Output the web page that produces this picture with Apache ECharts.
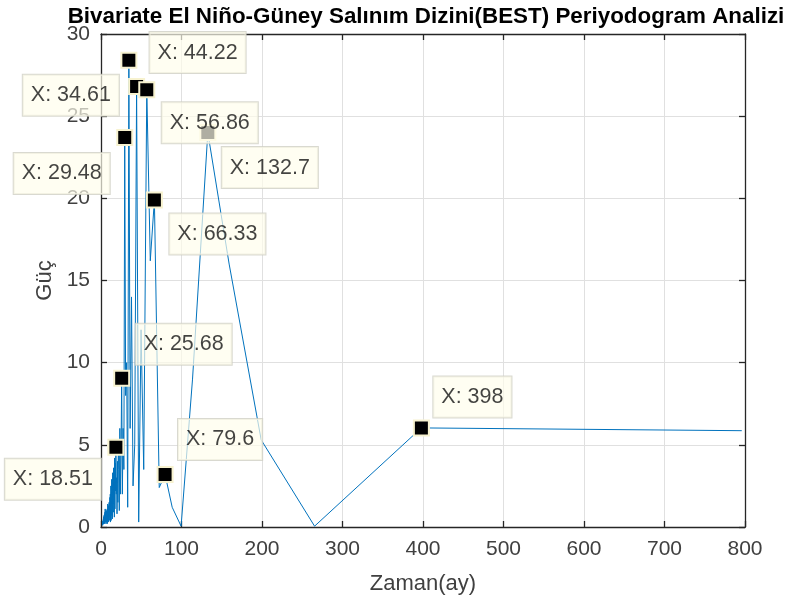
<!DOCTYPE html>
<html><head><meta charset="utf-8">
<script src="https://cdn.jsdelivr.net/npm/echarts@6/dist/echarts.min.js"></script>
<style>html,body{margin:0;padding:0;background:#fff}#c{width:786px;height:603px}</style>
</head><body><div id="c"></div>
<script>
// Periodogram: period (months) vs power — main (resolvable) points
const periodsMain = [796, 398, 265.3, 199, 159.2, 132.7, 113.7, 99.5, 88.44, 79.6, 72.36, 66.33, 61.23, 56.86, 53.07, 49.75, 46.82, 44.22, 41.89, 39.8, 37.9, 36.18, 34.61, 33.17, 31.84, 30.62, 29.48, 28.43, 27.45, 26.53, 25.68, 24.88, 24.12, 23.41, 22.74, 22.11, 21.51, 20.95, 20.41, 19.9, 19.41, 18.95, 18.51];
const powerMain   = [5.86, 6.03, 0.05, 5.3, 16.0, 24.0, 9.0, 0.05, 1.2, 3.2, 2.4, 19.9, 16.2, 26.6, 3.5, 12.0, 0.3, 26.8, 5.0, 2.5, 14.0, 6.0, 28.4, 1.2, 10.0, 8.0, 23.7, 3.5, 6.0, 2.0, 9.05, 4.5, 2.0, 6.0, 1.0, 3.5, 5.0, 1.5, 4.0, 0.8, 3.0, 2.0, 4.85];
// Dense short-period part
const periodsDense = [18.09, 17.69, 17.31, 16.94, 16.58, 16.24, 15.92, 15.6, 15.31, 15.02, 14.74, 14.47, 14.21, 13.96, 13.72, 13.49, 13.27, 13.05, 12.83, 12.63, 12.44, 12.25, 12.06, 11.88, 11.71, 11.54, 11.37, 11.21, 11.06, 10.9, 10.61, 10.34, 10.08, 9.83, 9.59, 9.36, 9.15, 8.94, 8.74, 8.56, 8.38, 8.2, 8.04, 7.88, 7.73, 7.58, 7.44, 7.3, 7.04, 6.8, 6.58, 6.37, 6.17, 5.98, 5.81, 5.64, 5.49, 5.34, 5.2, 5.06, 4.94, 4.81, 4.7, 4.5, 4.31, 4.15, 3.98, 3.83, 3.69, 3.55, 3.43, 3.3, 3.19, 3.06, 2.94, 2.82, 2.72, 2.6, 2.5, 2.4, 2.3, 2.21, 2.12, 2.06, 2.0];
const powerDense   = [2.2, 3.9, 1.1, 4.2, 0.6, 3.1, 1.8, 3.6, 0.9, 2.7, 1.4, 3.3, 0.5, 2.4, 1.9, 0.7, 2.9, 1.2, 2.1, 0.4, 1.7, 2.5, 0.8, 1.6, 0.3, 2.0, 1.1, 0.6, 1.8, 0.9, 1.4, 0.4, 1.5, 0.7, 1.2, 0.3, 1.3, 0.6, 1.0, 0.4, 1.4, 0.5, 0.9, 0.2, 1.1, 0.6, 0.9, 0.3, 1.0, 0.4, 0.8, 0.2, 0.9, 0.5, 1.0, 0.3, 0.8, 0.4, 1.1, 0.5, 0.9, 0.2, 0.7, 0.4, 0.8, 0.3, 0.6, 0.2, 0.7, 0.3, 0.5, 0.2, 0.6, 0.3, 0.5, 0.2, 0.4, 0.3, 0.45, 0.2, 0.35, 0.15, 0.3, 0.1, 0.2];
// Data tips (periods marked on the chart)
const tipPeriods = [18.51, 25.68, 29.48, 34.61, 44.22, 56.86, 66.33, 79.6, 132.7, 398];
const tipLabels  = ['X: 18.51', 'X: 25.68', 'X: 29.48', 'X: 34.61', 'X: 44.22', 'X: 56.86', 'X: 66.33', 'X: 79.6', 'X: 132.7', 'X: 398'];
// label box offsets from marker (layout only)
const tipOffsets = [[-63, 32], [62, -34], [-63, 36], [-58, 35], [61, -34], [63, 33], [63, 34], [55, -35], [62, 35], [51, -31]];

const lineData = periodsMain.map((p, i) => [p, powerMain[i]])
  .concat(periodsDense.map((p, i) => [p, powerDense[i]]));
const tipPoints = tipPeriods.map(p => [p, powerMain[periodsMain.indexOf(p)]]);

const FONT = "'Liberation Sans', Arial, Helvetica, sans-serif";
const AX = '#262626';
const SYM = 2;
const chart = echarts.init(document.getElementById('c'), null, {renderer: 'canvas'});
const axisCommon = {
  axisLine: {show: true, onZero: false, lineStyle: {color: AX, width: 1.3}},
  axisTick: {show: true, inside: true, length: 6, lineStyle: {color: AX, width: 1.3}},
};
chart.setOption({
  animation: false,
  backgroundColor: '#fff',
  title: {
    text: 'Bivariate El Niño-Güney Salınım Dizini(BEST) Periyodogram Analizi',
    left: 421, top: 1, textAlign: 'center',
    textStyle: {fontFamily: FONT, fontSize: 22.4, fontWeight: 'bold', color: '#000'}
  },
  grid: {left: 101, right: 41, top: 34, bottom: 76},
  xAxis: [
    Object.assign({
      type: 'value', min: 0, max: 800, interval: 100, position: 'bottom',
      axisLabel: {fontFamily: FONT, fontSize: 21, color: '#404040', margin: 12},
      splitLine: {show: true, lineStyle: {color: '#e0e0e0', width: 1}},
      name: 'Zaman(ay)', nameLocation: 'middle', nameGap: 46,
      nameTextStyle: {fontFamily: FONT, fontSize: 22, color: '#404040'}
    }, axisCommon),
    Object.assign({
      type: 'value', min: 0, max: 800, interval: 100, position: 'top',
      axisLabel: {show: false}, splitLine: {show: false}
    }, axisCommon)
  ],
  yAxis: [
    Object.assign({
      type: 'value', min: 0, max: 30, interval: 5, position: 'left',
      axisLabel: {fontFamily: FONT, fontSize: 21, color: '#404040', margin: 11},
      splitLine: {show: true, lineStyle: {color: '#e0e0e0', width: 1}},
      name: 'Güç', nameLocation: 'middle', nameGap: 45, nameRotate: 90,
      nameTextStyle: {fontFamily: FONT, fontSize: 22, color: '#404040'}
    }, axisCommon),
    Object.assign({
      type: 'value', min: 0, max: 30, interval: 5, position: 'right',
      axisLabel: {show: false}, splitLine: {show: false}
    }, axisCommon)
  ],
  series: [
    {
      type: 'line', data: lineData, showSymbol: false, symbol: 'none',
      lineStyle: {color: '#0072BD', width: 1}, z: 2, silent: true
    },
    {
      type: 'scatter', data: tipPoints, symbol: 'rect', symbolSize: 15,
      itemStyle: {color: '#000', borderColor: '#f7f2cf', borderWidth: 2, opacity: 1}, z: 3
    },
    {
      type: 'scatter', symbol: 'circle', symbolSize: SYM,
      itemStyle: {color: 'rgba(0,0,0,0)'}, z: 4,
      data: tipPoints.map((pt, i) => ({
        value: pt,
        label: {
          show: true,
          position: [SYM / 2 + tipOffsets[i][0], SYM / 2 + tipOffsets[i][1]],
          align: 'center', verticalAlign: 'middle',
          formatter: tipLabels[i]
        }
      })),
      label: {
        show: true,
        fontFamily: FONT, fontSize: 21.5, lineHeight: 22, color: '#141414',
        backgroundColor: 'rgba(255,254,236,0.86)', borderColor: '#cfcfc4', borderWidth: 1,
        padding: [10, 8, 9, 8]
      }
    }
  ]
});
</script>
</body></html>
